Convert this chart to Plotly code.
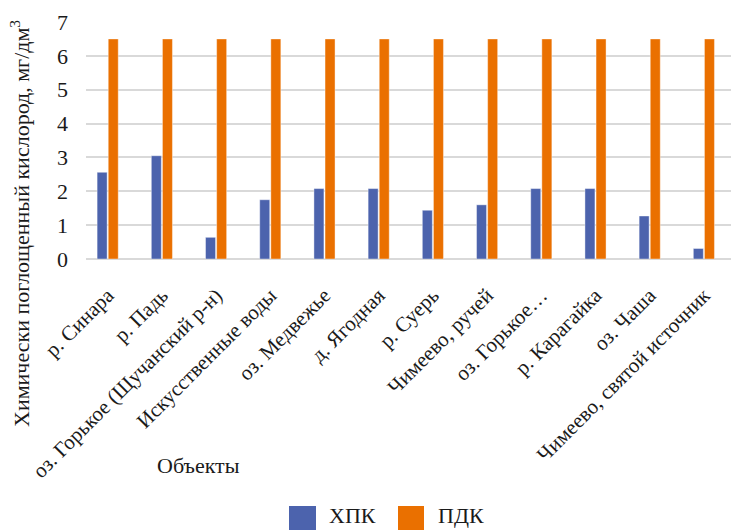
import plotly.graph_objects as go

categories = [
    "р. Синара", "р. Падь", "оз. Горькое (Щучанский р-н)", "Искусственные воды",
    "оз. Медвежье", "д. Ягодная", "р. Суерь", "Чимеево, ручей", "оз. Горькое…",
    "р. Карагайка", "оз. Чаша", "Чимеево, святой источник",
]
hpk = [2.56, 3.05, 0.64, 1.75, 2.08, 2.08, 1.44, 1.60, 2.08, 2.08, 1.27, 0.31]
pdk = [6.5] * 12
series_names = ["ХПК", "ПДК"]
y_ticks = [0, 1, 2, 3, 4, 5, 6, 7]

BLUE = "#4C63AD"
ORANGE = "#EA7000"
FONT = "Liberation Serif"
TXT = "#1a1a1a"

W, H = 731, 530
L, R, T, B = 86, 0, 22, 271
PW, PH = W - L - R, H - T - B


def px(x):
    return (x - L) / PW


def py(y):
    return (H - B - y) / PH


fig = go.Figure()
fig.add_trace(go.Bar(x=categories, y=hpk, name=series_names[0], marker_color=BLUE,
                     marker_line=dict(color="rgba(255,255,255,0.5)", width=0.8),
                     showlegend=False))
fig.add_trace(go.Bar(x=categories, y=pdk, name=series_names[1], marker_color=ORANGE,
                     marker_line=dict(color="rgba(255,255,255,0.5)", width=0.8),
                     showlegend=False))

fig.update_layout(
    width=W, height=H,
    margin=dict(l=L, r=R, t=T, b=B, pad=0),
    paper_bgcolor="white", plot_bgcolor="white",
    barmode="group", bargap=0.59, bargroupgap=0.1,
    font=dict(family=FONT, size=22, color=TXT),
    xaxis=dict(type="category", range=[-0.4, 11.5], tickangle=-45,
               tickfont=dict(family=FONT, size=21, color=TXT),
               showgrid=False, showline=False, ticks="",
               ticklabelstandoff=19),
    yaxis=dict(range=[0, 7], tickvals=y_ticks, showgrid=True,
               gridcolor="#D9D9D9", gridwidth=1.5, zeroline=True,
               zerolinecolor="#D9D9D9", zerolinewidth=1.5,
               tickfont=dict(family=FONT, size=22, color=TXT), ticks="",
               ticklabelstandoff=17),
    showlegend=False,
)

fig.add_annotation(text="Химически поглощенный кислород, мг/дм<sup>3</sup>",
                   xref="paper", yref="paper", x=px(20), y=py(224),
                   xanchor="center", yanchor="middle", textangle=-90,
                   showarrow=False, font=dict(family=FONT, size=22, color=TXT))
fig.add_annotation(text="Объекты", xref="paper", yref="paper", x=px(198), y=py(465),
                   xanchor="center", yanchor="middle", showarrow=False,
                   font=dict(family=FONT, size=22, color=TXT))

# legend drawn manually
legend_items = [(289, 316, 327, series_names[0], BLUE), (398, 424, 436, series_names[1], ORANGE)]
for x0, x1, tx, name, col in legend_items:
    fig.add_shape(type="rect", xref="paper", yref="paper",
                  x0=px(x0), x1=px(x1), y0=py(506), y1=py(532),
                  fillcolor=col, line=dict(width=0))
    fig.add_annotation(text=name, xref="paper", yref="paper", x=px(tx), y=py(530),
                       xanchor="left", yanchor="bottom", showarrow=False,
                       font=dict(family=FONT, size=22, color=TXT))

fig.write_html("out.html")
